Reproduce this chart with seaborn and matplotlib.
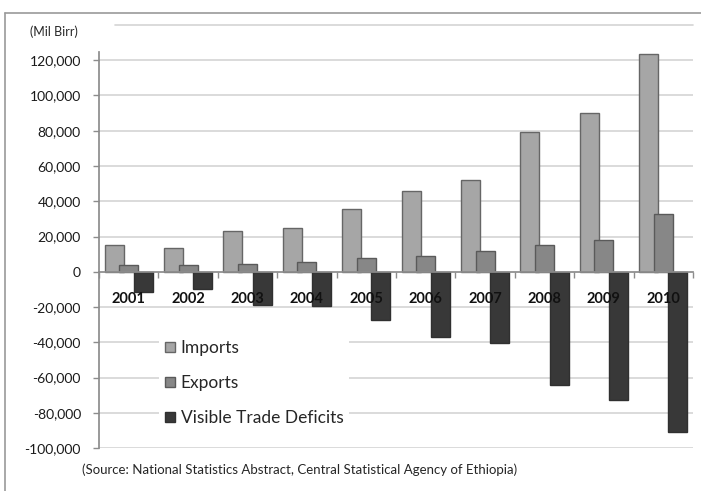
import matplotlib
matplotlib.use("Agg")
import matplotlib.pyplot as plt
import seaborn as sns
import pandas as pd
from matplotlib.lines import Line2D
from matplotlib.ticker import FuncFormatter, FixedLocator

years = ["2001", "2002", "2003", "2004", "2005", "2006", "2007", "2008", "2009", "2010"]
imports = [15300, 13400, 23200, 24700, 35500, 46000, 52100, 79500, 90000, 123300]
exports = [4100, 4100, 4500, 5700, 7700, 9000, 11700, 15100, 18100, 32600]
deficits = [-11700, -9600, -18700, -19600, -27500, -37000, -40400, -64500, -72500, -90800]
series_names = ["Imports", "Exports", "Visible Trade Deficits"]
y_ticks = [-100000, -80000, -60000, -40000, -20000, 0, 20000, 40000, 60000, 80000, 100000, 120000]

fills = ["#a6a6a6", "#878787", "#383838"]
edges = ["#666666", "#5a5a5a", "#303030"]

df = pd.DataFrame({
    "year": years * 3,
    "series": [series_names[0]] * 10 + [series_names[1]] * 10 + [series_names[2]] * 10,
    "value": imports + exports + deficits,
})

sns.set_theme(style="white")
plt.rcParams["font.family"] = ["Lato", "DejaVu Sans"]

W, H = 701, 491
fig = plt.figure(figsize=(W / 100, H / 100), dpi=100)
ax = fig.add_axes([99 / W, 1 - 448 / H, 594 / W, 423 / H])

sns.barplot(data=df, x="year", y="value", hue="series", palette=fills,
            width=0.74, errorbar=None, ax=ax, legend=True, zorder=2)

for cont, ec in zip(ax.containers, edges):
    for p in cont.patches:
        c = p.get_x() + p.get_width() / 2
        p.set_width(0.32)
        p.set_x(c - 0.16)
        p.set_edgecolor(ec)
        p.set_linewidth(1.0)

ax.set_xlim(-0.5, 9.5)
ax.set_ylim(-100000, 140000)
ax.set_axisbelow(False)

# gridlines
for v in y_ticks:
    if v != 0:
        ax.axhline(v, color="#d4d4d4", lw=1.2, zorder=0)
ax.axhline(140000, xmin=16 / 594, color="#d4d4d4", lw=1.2, zorder=0, clip_on=False)

ax.yaxis.set_major_locator(FixedLocator(y_ticks))
ax.yaxis.set_major_formatter(FuncFormatter(lambda v, p: f"{int(v):,}"))
ax.tick_params(axis="y", which="major", direction="out", length=4, width=1,
               color="#8c8c8c", pad=9, labelsize=10, labelcolor="#1a1a1a", left=True)

for s in ["top", "right"]:
    ax.spines[s].set_visible(False)
ax.spines["left"].set_color("#8c8c8c")
ax.spines["left"].set_bounds(-100000, 124700)
ax.spines["bottom"].set_position(("data", 0))
ax.spines["bottom"].set_color("#8c8c8c")

ax.set_xticks(range(10))
ax.set_xticklabels(years, fontsize=10.5, fontweight="bold", color="#111111")
ax.set_xticks([i + 0.5 for i in range(-1, 10)], minor=True)
ax.tick_params(axis="x", which="major", length=0, pad=14.5)
ax.tick_params(axis="x", which="minor", direction="out", length=4, width=1,
               color="#8c8c8c", bottom=True)
ax.set_xlabel("")
ax.set_ylabel("")

leg = ax.legend(loc="upper left", bbox_to_anchor=((159 - 99) / 594, (448 - 334) / 423),
                frameon=True, facecolor="white", edgecolor="none", framealpha=1,
                fontsize=12.5, handlelength=0.57, handleheight=0.57, handletextpad=0.32,
                labelspacing=1.1, borderaxespad=0, borderpad=0.35, fancybox=False)
for h, ec in zip(leg.legend_handles, edges):
    h.set_edgecolor(ec)
for t in leg.get_texts():
    t.set_color("#262626")
leg.set_zorder(3)

fig.text(30 / W, 1 - 32 / H, "(Mil Birr)", fontsize=9, color="#262626", va="center")
fig.text(82 / W, 1 - 470 / H,
         "(Source: National Statistics Abstract, Central Statistical Agency of Ethiopia)",
         fontsize=9.5, color="#262626", va="center")

fig.add_artist(Line2D([5 / W, 5 / W], [0, 1 - 13 / H], transform=fig.transFigure,
                      color="#9a9a9a", lw=1.2))
fig.add_artist(Line2D([5 / W, 1], [1 - 13 / H, 1 - 13 / H], transform=fig.transFigure,
                      color="#9a9a9a", lw=1.2))

fig.savefig("out.png", dpi=100)
